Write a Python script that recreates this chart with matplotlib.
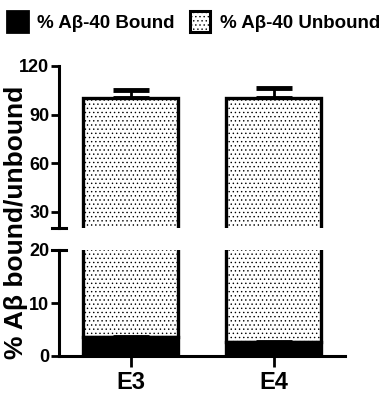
import matplotlib
matplotlib.use("Agg")
import matplotlib.pyplot as plt
from matplotlib.patches import Patch

# data
groups = ["E3", "E4"]
bound = [3.6, 2.7]
bound_err = [0.25, 0.2]
unbound = [96.4, 97.3]
total_err = [5.4, 6.4]
top_ticks = [30, 60, 90, 120]
bottom_ticks = [0, 10, 20]
top_range = (20, 120)
bottom_range = (0, 20)

plt.rcParams["font.family"] = ["Liberation Sans", "DejaVu Sans"]
plt.rcParams["font.weight"] = "bold"
plt.rcParams["hatch.linewidth"] = 0.5
plt.rcParams["hatch.color"] = "black"

W, H = 387, 395
fig = plt.figure(figsize=(W / 100, H / 100), dpi=100)

left, width = 59 / W, 286 / W
ax_top = fig.add_axes([left, (H - 228) / H, width, 162 / H])
ax_bot = fig.add_axes([left, (H - 356) / H, width, 106 / H])

x = list(range(len(groups)))
bw = 0.67
lw = 2.4
for ax in (ax_top, ax_bot):
    ax.bar(x, unbound, bw, bottom=bound, color="white", edgecolor="black",
           linewidth=lw, hatch="....", zorder=2)
    ax.bar(x, bound, bw, color="black", edgecolor="black", linewidth=lw, zorder=3)
    ax.errorbar(x, [b + u for b, u in zip(bound, unbound)], yerr=[[0, 0], total_err],
                fmt="none", ecolor="black", elinewidth=2, capsize=13, capthick=3.5, zorder=1)
    ax.errorbar(x, bound, yerr=[[0, 0], bound_err], fmt="none", ecolor="black",
                elinewidth=2, capsize=13, capthick=2, zorder=4)
    ax.set_xlim(-0.5, 1.5)
    for s in ("top", "right"):
        ax.spines[s].set_visible(False)
    ax.spines["left"].set_linewidth(2.2)
    ax.tick_params(axis="y", direction="out", length=6, width=2, labelsize=13, pad=1)

ax_top.set_ylim(*top_range)
ax_top.set_yticks(top_ticks)
ax_top.spines["bottom"].set_visible(False)
ax_top.tick_params(axis="x", bottom=False, labelbottom=False)

ax_bot.set_ylim(*bottom_range)
ax_bot.set_yticks(bottom_ticks)
ax_bot.spines["bottom"].set_linewidth(2.2)
ax_bot.set_xticks(x)
ax_bot.set_xticklabels(groups)
ax_bot.tick_params(axis="x", direction="out", length=8, width=2, labelsize=17, pad=3)

# break markers on the y axis
ax_top.plot([-0.025, 0.025], [0, 0], color="black", lw=2.2, transform=ax_top.transAxes, clip_on=False)
ax_bot.plot([-0.025, 0.025], [1, 1], color="black", lw=2.2, transform=ax_bot.transAxes, clip_on=False)

fig.text(0.042, (H - 222) / H, "% A\u03b2 bound/unbound", rotation=90, ha="center", va="center",
         fontsize=19, fontweight="bold")

handles = [
    Patch(facecolor="black", edgecolor="black", linewidth=2, label="% A\u03b2-40 Bound"),
    Patch(facecolor="white", edgecolor="black", linewidth=2.2, hatch="....", label="% A\u03b2-40 Unbound"),
]
fig.legend(handles=handles, loc="upper center", bbox_to_anchor=(0.5, 1.0), ncol=2, frameon=False,
           fontsize=13.5, handlelength=1.1, handleheight=1.35, handletextpad=0.5, columnspacing=0.8,
           borderaxespad=0.2)

fig.savefig("out.png", dpi=100)
